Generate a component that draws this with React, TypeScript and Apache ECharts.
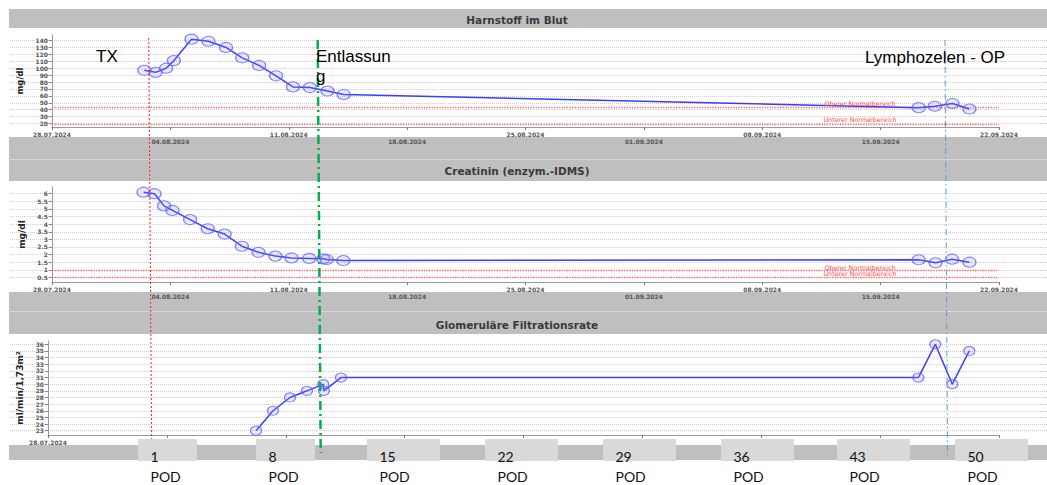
import React, { useEffect, useRef } from 'react';
import * as echarts from 'echarts';

// ---------------- data ----------------
const axisStart = '2024-07-28 00:00';
const axisDays = 56;
const axisStepDays = 7;

const ureaTimes = [
  '2024-08-02 11:00', '2024-08-03 03:00', '2024-08-03 18:00', '2024-08-04 05:00',
  '2024-08-05 06:00', '2024-08-06 06:00', '2024-08-07 07:00', '2024-08-08 06:00',
  '2024-08-09 06:00', '2024-08-10 06:00', '2024-08-11 06:00', '2024-08-12 06:00',
  '2024-08-13 07:00', '2024-08-14 06:00', '2024-09-17 06:00', '2024-09-18 05:00',
  '2024-09-19 06:00', '2024-09-20 06:00',
];
const ureaValues = [97, 94, 100, 111, 142, 139, 130, 115, 104, 89, 73, 72, 67, 62, 43, 45, 49, 41];
const ureaTicks = [20, 30, 40, 50, 60, 70, 80, 90, 100, 110, 120, 130, 140];
const ureaNormal = [19, 44];

const creaTimes = [
  '2024-08-02 10:00', '2024-08-03 01:30', '2024-08-03 15:00', '2024-08-04 03:00',
  '2024-08-05 04:00', '2024-08-06 05:00', '2024-08-07 05:00', '2024-08-08 05:30',
  '2024-08-09 05:00', '2024-08-10 05:00', '2024-08-11 04:00', '2024-08-12 05:00',
  '2024-08-13 01:00', '2024-08-13 06:00', '2024-08-14 05:30', '2024-09-17 06:00',
  '2024-09-18 06:00', '2024-09-19 05:30', '2024-09-20 06:00',
];
const creaValues = [6.1, 6.0, 5.2, 4.9, 4.3, 3.7, 3.35, 2.55, 2.15, 1.9, 1.78, 1.75, 1.72, 1.68, 1.61, 1.66, 1.46, 1.7, 1.5];
const creaTicks = [0.5, 1, 1.5, 2, 2.5, 3, 3.5, 4, 4.5, 5, 5.5, 6];
const creaNormal = [0.5, 0.95];

const gfrTimes = [
  '2024-08-09 06:00', '2024-08-10 06:00', '2024-08-11 06:00', '2024-08-12 06:00',
  '2024-08-13 05:00', '2024-08-13 06:00', '2024-08-14 06:00', '2024-09-17 06:00',
  '2024-09-18 06:00', '2024-09-19 06:00', '2024-09-20 06:00',
];
const gfrValues = [23, 26, 28, 29, 30, 29, 31, 31, 36, 30, 35];
const gfrTicks = [23, 24, 25, 26, 27, 28, 29, 30, 31, 32, 33, 34, 35, 36];

const panelTitles = ['Harnstoff im Blut', 'Creatinin (enzym.-IDMS)', 'Glomeruläre Filtrationsrate'];
const unitNames = ['mg/dl', 'mg/dl', 'ml/min/1,73m²'];
const normalLabels = ['Oberer Normalbereich', 'Unterer Normalbereich'];
const podLabels = ['1', '8', '15', '22', '29', '36', '43', '50'];
const podWord = 'POD';

// ---------------- helpers ----------------
const DAY = 86400000;
function parseTime(s: string) {
  const [d, t] = s.split(' ');
  const [y, m, dd] = d.split('-').map(Number);
  const [h, mi] = (t || '00:00').split(':').map(Number);
  return Date.UTC(y, m - 1, dd, h, mi);
}
const T0 = parseTime(axisStart);
const toDays = (s: string) => (parseTime(s) - T0) / DAY;
const pad = (n: number) => (n < 10 ? '0' + n : '' + n);
function fmtDate(v: number) {
  const d = new Date(T0 + Math.round(v) * DAY);
  return pad(d.getUTCDate()) + '.' + pad(d.getUTCMonth() + 1) + '.' + d.getUTCFullYear();
}

// ---------------- layout ----------------
const W = 1047;
const H = 485;
const FONT = 'DejaVu Sans';

const PANELS = [
  { top: 35, height: 92, left: 52, right: 48, min: 15, max: 148, step: 10, nameSize: 8.5, nameGap: 21, sym: [13, 10],
    times: ureaTimes, values: ureaValues, ticks: ureaTicks, normal: ureaNormal, allDates: true },
  { top: 187, height: 95, left: 52, right: 48, min: 0.2, max: 6.44, step: 0.5, nameSize: 9, nameGap: 21, sym: [13, 10],
    times: creaTimes, values: creaValues, ticks: creaTicks, normal: creaNormal, allDates: true },
  { top: 341, height: 94, left: 48, right: 48, min: 22.35, max: 36.5, step: 1, nameSize: 9, nameGap: 15, sym: [11, 9],
    times: gfrTimes, values: gfrValues, ticks: gfrTicks, normal: null as number[] | null, allDates: false },
];

const POD_BOX_X = [138, 256, 367, 485, 603, 721, 837, 955];
const POD_BOX_W = [59, 59, 73, 73, 73, 73, 73, 73];

function buildOption() {
  const grid: any[] = [];
  const xAxis: any[] = [];
  const yAxis: any[] = [];
  const series: any[] = [];

  PANELS.forEach((p, i) => {
    const gi = i * 2;
    grid.push({ left: p.left, right: p.right, top: p.top, height: p.height, containLabel: false });
    const first = p.ticks[0];
    const last = p.ticks[p.ticks.length - 1];
    const yPix = (v: number) => p.top + ((p.max - v) / (p.max - p.min)) * p.height;
    const bgTop = yPix(last);
    const bgBottom = yPix(first);
    grid.push({ left: 10, right: 0, top: bgTop, height: bgBottom - bgTop, containLabel: false });

    xAxis.push({
      type: 'value', gridIndex: gi, min: 0, max: axisDays, interval: axisStepDays,
      axisLine: { show: true, lineStyle: { color: '#9a9a9a', width: 1 } },
      axisTick: { show: true, length: 3, lineStyle: { color: '#7a7a7a' } },
      splitLine: { show: false },
      axisLabel: {
        fontSize: 6, fontWeight: 'bold', color: '#555', fontFamily: FONT, margin: 4, lineHeight: 7,
        formatter: (v: number) => {
          const k = Math.round(v / axisStepDays);
          if (!p.allDates && k !== 0) return '';
          return k % 2 ? '\n' + fmtDate(v) : fmtDate(v);
        },
      },
    });
    xAxis.push({ type: 'value', gridIndex: gi + 1, show: false, min: 0, max: 1 });

    yAxis.push({
      type: 'value', gridIndex: gi, min: p.min, max: p.max,
      axisLine: { show: true, lineStyle: { color: '#9a9a9a', width: 1 } },
      axisTick: { show: true, length: 3, customValues: p.ticks, lineStyle: { color: '#888' } },
      axisLabel: {
        customValues: p.ticks, fontSize: 6, fontWeight: 'bold', color: '#555', fontFamily: FONT, margin: 4,
        formatter: (v: number) => String(v),
      },
      splitLine: { show: false },
      name: unitNames[i], nameLocation: 'middle', nameRotate: 90, nameGap: p.nameGap,
      nameTextStyle: { fontSize: p.nameSize, fontWeight: 'bold', color: '#222', fontFamily: FONT },
    });
    yAxis.push({
      type: 'value', gridIndex: gi + 1, min: first, max: last, interval: p.step,
      axisLine: { show: false }, axisTick: { show: false }, axisLabel: { show: false },
      splitLine: { show: true, lineStyle: { color: '#cdcdcd', type: 'dotted', width: 1 } },
    });

    const s: any = {
      type: 'line', xAxisIndex: gi, yAxisIndex: gi,
      data: p.times.map((t, k) => [toDays(t), p.values[k]]),
      symbol: 'circle', symbolSize: p.sym, showSymbol: true, showAllSymbol: true,
      lineStyle: { color: '#3c3cff', width: 1.5 },
      itemStyle: { color: 'rgba(140,140,255,0.18)', borderColor: 'rgba(95,95,255,0.75)', borderWidth: 1.2 },
      silent: true, z: 5,
    };
    if (p.normal) {
      s.markLine = {
        silent: true, symbol: ['none', 'none'], label: { show: false },
        lineStyle: { color: '#ff6a6a', type: 'dotted', width: 1.3 },
        data: p.normal.map((v) => ({ yAxis: v })),
      };
    }
    series.push(s);
  });

  const bg = (x: number, y: number, w: number, h: number, fill: string) => ({
    type: 'rect', z: -10, silent: true, shape: { x, y, width: w, height: h }, style: { fill },
  });
  const txt = (x: number, y: number, text: string, size: number, color: string, opts: any = {}) => ({
    type: 'text', z: opts.z ?? 70, silent: true, x, y,
    style: {
      text, fill: color, fontSize: size, fontFamily: opts.family ?? FONT, fontWeight: opts.weight ?? 'normal',
      textAlign: opts.align ?? 'left', textVerticalAlign: 'middle', align: opts.align ?? 'left', verticalAlign: 'middle',
    },
  });

  const graphic: any[] = [
    bg(9, 9, W - 9, 19, '#bfbfbf'),
    bg(9, 137, W - 9, 44, '#bfbfbf'),
    bg(9, 159, W - 9, 1, '#d6d6d6'),
    bg(9, 292, W - 9, 42, '#bfbfbf'),
    bg(9, 311, W - 9, 1, '#d6d6d6'),
    bg(9, 445, W - 9, 15, '#bfbfbf'),
    txt(517, 19.5, panelTitles[0], 10.5, '#3a3a3a', { align: 'center', weight: 'bold', z: 10 }),
    txt(517, 171, panelTitles[1], 10.5, '#3a3a3a', { align: 'center', weight: 'bold', z: 10 }),
    txt(517, 324.5, panelTitles[2], 10.5, '#3a3a3a', { align: 'center', weight: 'bold', z: 10 }),
    txt(860, 104, normalLabels[0], 6.4, '#ff4d4d', { align: 'center' }),
    txt(860, 119.5, normalLabels[1], 6.4, '#ff4d4d', { align: 'center' }),
    txt(860, 267.5, normalLabels[0], 6.4, '#ff4d4d', { align: 'center' }),
    txt(860, 273.8, normalLabels[1], 6.4, '#ff4d4d', { align: 'center' }),
    {
      type: 'line', z: 50, silent: true, shape: { x1: 148.7, y1: 38, x2: 151.7, y2: 445 },
      style: { stroke: '#ff2020', lineWidth: 1, lineDash: [2, 2] },
    },
    {
      type: 'line', z: 50, silent: true, shape: { x1: 317.7, y1: 40, x2: 320.7, y2: 453 },
      style: { stroke: '#00b050', lineWidth: 2.5, lineDash: [9, 4, 2, 4] },
    },
    {
      type: 'line', z: 50, silent: true, shape: { x1: 945, y1: 40, x2: 947.5, y2: 457 },
      style: { stroke: '#5b9bd5', lineWidth: 1, lineDash: [6, 3, 1.5, 3] },
    },
    txt(96, 56.8, 'TX', 17, '#000', { family: 'Liberation Sans' }),
    txt(316, 56.8, 'Entlassun', 17, '#000', { family: 'Liberation Sans' }),
    txt(316, 76.6, 'g', 17, '#000', { family: 'Liberation Sans' }),
    txt(865, 57, 'Lymphozelen - OP', 17, '#000', { family: 'Liberation Sans' }),
  ];

  podLabels.forEach((lab, k) => {
    graphic.push({
      type: 'rect', z: 60, silent: true,
      shape: { x: POD_BOX_X[k], y: 439, width: POD_BOX_W[k], height: 22 }, style: { fill: '#d9d9d9' },
    });
    graphic.push(txt(POD_BOX_X[k] + 12.5, 456.3, lab, 14, '#111', { family: 'Lato', z: 61 }));
    graphic.push(txt(POD_BOX_X[k] + 12.5, 476.3, podWord, 14, '#111', { family: 'Lato', z: 61 }));
  });

  return {
    animation: false,
    backgroundColor: '#ffffff',
    textStyle: { fontFamily: FONT },
    grid, xAxis, yAxis, series, graphic,
  };
}

export default function App() {
  const ref = useRef<HTMLDivElement>(null);
  useEffect(() => {
    if (!ref.current) return;
    const chart = echarts.init(ref.current, null, { renderer: 'svg' });
    chart.setOption(buildOption() as any);
    return () => chart.dispose();
  }, []);
  return (
    <div
      ref={ref}
      style={{ position: 'fixed', left: 0, top: 0, width: W, height: H, background: '#fff' }}
    />
  );
}
